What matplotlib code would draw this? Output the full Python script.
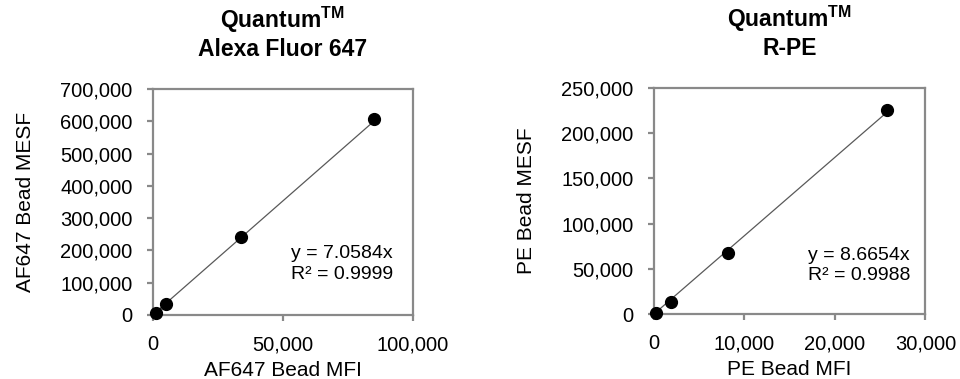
import matplotlib
matplotlib.use("Agg")
import matplotlib.pyplot as plt
from matplotlib.ticker import FuncFormatter
import numpy as np

plt.rcParams['font.family'] = ['Liberation Sans', 'DejaVu Sans']
plt.rcParams['mathtext.fontset'] = 'custom'
plt.rcParams['mathtext.bf'] = 'Liberation Sans:bold'
plt.rcParams['mathtext.rm'] = 'Liberation Sans'

# AF647 beads
af_mfi = [1150, 5000, 33800, 84900]
af_mesf = [5000, 33000, 241600, 606000]
af_slope = 7.0584
af_r2 = 0.9999

# PE beads
pe_mfi = [220, 1950, 8250, 25800]
pe_mesf = [1800, 14000, 67400, 225700]
pe_slope = 8.6654
pe_r2 = 0.9988

GRAY = '#898989'
comma = FuncFormatter(lambda v, p: f"{v:,.0f}")


def _panel(ax, x, y, slope, r2, title, xlabel, ylabel, xlim, xstep, ylim, ystep, txt_x, txt_y):
    x = np.array(x)
    xs = np.array([x.min(), x.max()])
    ax.plot(xs, slope * xs, color='#595959', lw=0.9, zorder=2)
    ax.plot(x, y, 'o', color='black', ms=8.5, zorder=3, clip_on=False)

    ax.set_xlim(0, xlim)
    ax.set_ylim(0, ylim)
    ax.set_xticks(np.arange(0, xlim + 1, xstep))
    ax.set_yticks(np.arange(0, ylim + 1, ystep))
    ax.xaxis.set_major_formatter(comma)
    ax.yaxis.set_major_formatter(comma)
    for s in ax.spines.values():
        s.set_color(GRAY)
        s.set_linewidth(1.6)
    ax.tick_params(direction='out', length=4.5, width=1.6, color=GRAY,
                   labelsize=14.5, labelcolor='black', pad=10)

    ax.set_xlabel(xlabel, fontsize=15, labelpad=5)
    ax.set_ylabel(ylabel, fontsize=15, labelpad=18)
    ax.set_title(title, fontsize=16.5, fontweight='bold', pad=24, linespacing=1.15)

    ax.text(txt_x, txt_y, f"y = {slope:.4f}x", transform=ax.transAxes,
            fontsize=14, ha='left', va='center')
    ax.text(txt_x, txt_y - 0.089, f"R² = {r2:.4f}", transform=ax.transAxes,
            fontsize=14, ha='left', va='center')


fig = plt.figure(figsize=(9.6, 3.79), dpi=100)
ax1 = fig.add_axes([0.159, 0.169, 0.271, 0.596])
ax2 = fig.add_axes([0.681, 0.171, 0.283, 0.597])

_panel(ax1, af_mfi, af_mesf, af_slope, af_r2, "Quantum$^{\\mathbf{TM}}$\nAlexa Fluor 647",
       "AF647 Bead MFI", "AF647 Bead MESF", 100000, 50000, 700000, 100000, 0.53, 0.27)
_panel(ax2, pe_mfi, pe_mesf, pe_slope, pe_r2, "Quantum$^{\\mathbf{TM}}$\nR-PE",
       "PE Bead MFI", "PE Bead MESF", 30000, 10000, 250000, 50000, 0.567, 0.258)

fig.savefig('out.png', dpi=100)
